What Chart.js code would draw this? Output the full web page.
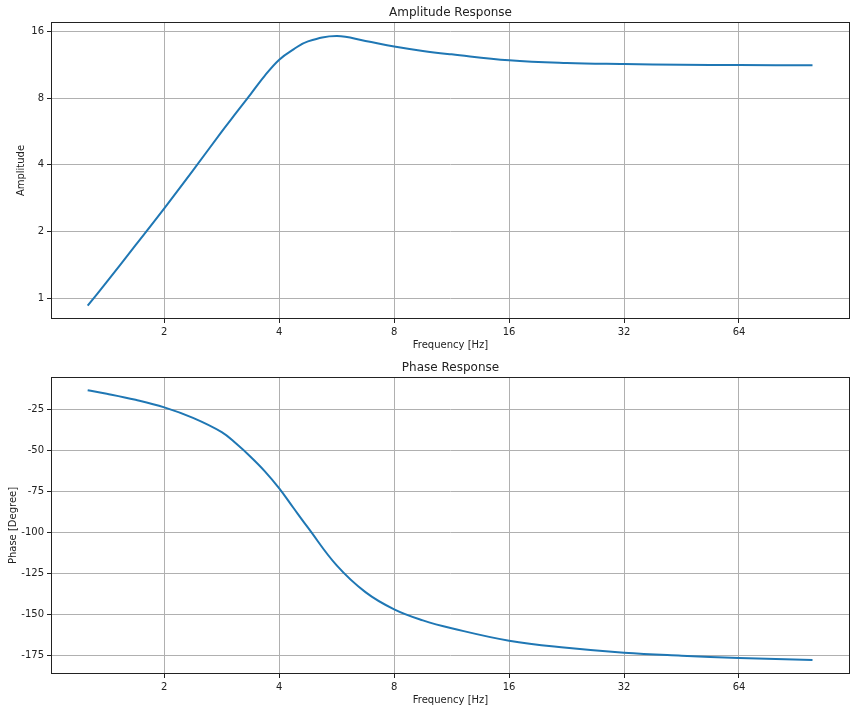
<!DOCTYPE html>
<html lang="en">
<head>
    <meta charset="UTF-8">
    <title>Frequency Response</title>
    <script src="https://cdn.jsdelivr.net/npm/chart.js"></script>
    <style>
        body { margin: 0; background: #fff; }
        .plot { position: absolute; left: 0; width: 856px; height: 356px; }
    </style>
</head>
<body>
    <canvas id="ampChart" class="plot" width="856" height="356" style="top:0"></canvas>
    <canvas id="phaseChart" class="plot" width="856" height="356" style="top:356px"></canvas>
<script>
    // values (roughly quarter-octave steps, finer near the knee)
    const frequencies = [1.26, 1.414, 1.682, 2, 2.378, 2.828, 3.084, 3.364, 3.668, 4, 4.36, 4.757, 5.657, 6.727, 8, 9.51, 11.31, 16, 22.63, 32, 45.25, 64, 99.7];
    const ampValues = [0.923, 1.184, 1.734, 2.544, 3.776, 5.657, 6.87, 8.34, 10.13, 11.96, 13.32, 14.47, 15.30, 14.52, 13.70, 13.09, 12.64, 11.88, 11.55, 11.43, 11.35, 11.30, 11.27];
    const phaseValues = [-13.4, -15.5, -19.2, -23.8, -30.2, -38.9, -45.9, -53.9, -62.8, -73.2, -85.2, -97.2, -120.2, -136.5, -147, -153.7, -158.5, -166.1, -170.4, -173.4, -175.2, -176.6, -177.9];

    const freqTicks = [2, 4, 8, 16, 32, 64];
    const ampTicks = [1, 2, 4, 8, 16];
    const phaseTicks = [-175, -150, -125, -100, -75, -50, -25];

    const lineColor = '#1f77b4';
    const gridColor = '#b0b0b0';
    const textColor = '#222';
    const fontFamily = '"DejaVu Sans", sans-serif';

    // matplotlib style box around the plot area
    const framePlugin = {
        id: 'frame',
        afterDraw(chart) {
            const a = chart.chartArea;
            const ctx = chart.ctx;
            ctx.save();
            ctx.strokeStyle = '#222';
            ctx.lineWidth = 1;
            ctx.strokeRect(Math.round(a.left) + 0.5, Math.round(a.top) + 0.5,
                Math.round(a.right - a.left) - 1, Math.round(a.bottom - a.top) - 1);
            ctx.restore();
        }
    };

    function fixedTicks(list) {
        return function(scale) {
            scale.ticks = list.map(v => ({ value: v }));
        };
    }

    function makeChart(id, cfg) {
        const points = cfg.xs.map((x, i) => ({ x: x, y: cfg.ys[i] }));
        return new Chart(document.getElementById(id), {
            type: 'line',
            data: {
                datasets: [{
                    data: points,
                    borderColor: lineColor,
                    borderWidth: 2,
                    pointRadius: 0,
                    fill: false,
                    tension: 0.4
                }]
            },
            options: {
                responsive: false,
                animation: false,
                devicePixelRatio: 1,
                layout: { padding: { left: 0, right: 6, top: 0, bottom: 0 } },
                plugins: {
                    legend: { display: false },
                    tooltip: { enabled: false },
                    title: {
                        display: true,
                        text: cfg.title,
                        fullSize: false,
                        color: textColor,
                        font: { family: fontFamily, size: 12, weight: 'normal', lineHeight: 1.2 },
                        padding: { top: cfg.titleTop, bottom: cfg.titleGap }
                    }
                },
                scales: {
                    x: {
                        type: 'logarithmic',
                        min: 1.01,
                        max: 125,
                        afterBuildTicks: fixedTicks(freqTicks),
                        afterFit: s => { s.height = cfg.xHeight; },
                        border: { display: false },
                        grid: { color: gridColor, lineWidth: 1, tickColor: '#222', tickLength: 4 },
                        ticks: {
                            color: textColor,
                            padding: 3,
                            maxRotation: 0,
                            autoSkip: false,
                            font: { family: fontFamily, size: 10 },
                            callback: v => String(v)
                        },
                        title: {
                            display: true,
                            text: 'Frequency [Hz]',
                            color: textColor,
                            font: { family: fontFamily, size: 10 },
                            padding: { top: 0, bottom: cfg.xTitlePad }
                        }
                    },
                    y: {
                        type: cfg.yType,
                        min: cfg.yMin,
                        max: cfg.yMax,
                        afterBuildTicks: fixedTicks(cfg.yTicks),
                        afterFit: s => { s.width = 51; },
                        border: { display: false },
                        grid: { color: gridColor, lineWidth: 1, tickColor: '#222', tickLength: 4 },
                        ticks: {
                            color: textColor,
                            padding: 3,
                            autoSkip: false,
                            font: { family: fontFamily, size: 10 },
                            callback: v => String(v)
                        },
                        title: {
                            display: true,
                            text: cfg.yLabel,
                            color: textColor,
                            font: { family: fontFamily, size: 10 },
                            padding: { top: cfg.yTitlePad, bottom: 0 }
                        }
                    }
                }
            },
            plugins: [framePlugin]
        });
    }

    makeChart('ampChart', {
        title: 'Amplitude Response',
        titleTop: 6,
        titleGap: 1.6,
        xs: frequencies,
        ys: ampValues,
        xHeight: 37,
        xTitlePad: 5,
        yType: 'logarithmic',
        yMin: 0.804,
        yMax: 17.7,
        yTicks: ampTicks,
        yLabel: 'Amplitude',
        yTitlePad: 15
    });

    makeChart('phaseChart', {
        title: 'Phase Response',
        titleTop: 5,
        titleGap: 1.6,
        xs: frequencies,
        ys: phaseValues,
        xHeight: 38,
        xTitlePad: 6,
        yType: 'linear',
        yMin: -186.4,
        yMax: -5.3,
        yTicks: phaseTicks,
        yLabel: 'Phase [Degree]',
        yTitlePad: 7
    });
</script>
</body>
</html>
